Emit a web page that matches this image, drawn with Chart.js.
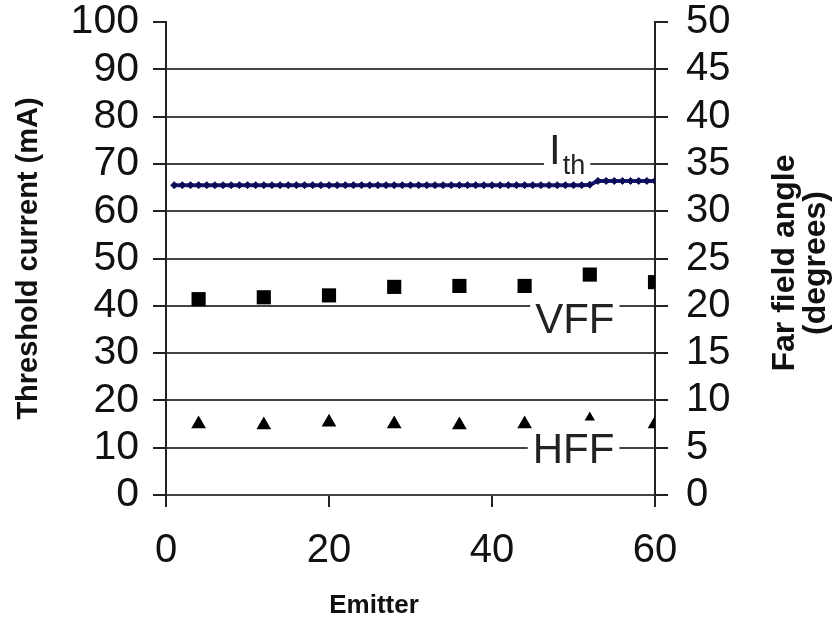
<!DOCTYPE html>
<html lang="en">
<head>
  <meta charset="UTF-8">
  <title>Threshold current and far field angle vs emitter</title>
  <script src="https://cdn.jsdelivr.net/npm/chart.js"></script>
  <style>
    html, body { margin: 0; padding: 0; background: #fff; }
    .chart-box { position: relative; width: 839px; height: 629px; }
  </style>
</head>
<body>
  <div class="chart-box">
    <canvas id="emitterChart"></canvas>
  </div>

  <script>
    // threshold current, one point per emitter
    const ithEmitters = [
      1, 2, 3, 4, 5, 6, 7, 8, 9, 10, 11, 12, 13, 14, 15, 16, 17, 18, 19, 20,
      21, 22, 23, 24, 25, 26, 27, 28, 29, 30, 31, 32, 33, 34, 35, 36, 37, 38, 39, 40,
      41, 42, 43, 44, 45, 46, 47, 48, 49, 50, 51, 52, 53, 54, 55, 56, 57, 58, 59, 60
    ];
    const ithValues = [
      65.5, 65.5, 65.5, 65.5, 65.5, 65.5, 65.5, 65.5, 65.5, 65.5,
      65.5, 65.5, 65.5, 65.5, 65.5, 65.5, 65.5, 65.5, 65.5, 65.5,
      65.5, 65.5, 65.5, 65.5, 65.5, 65.5, 65.5, 65.5, 65.5, 65.5,
      65.5, 65.5, 65.5, 65.5, 65.5, 65.5, 65.5, 65.5, 65.5, 65.5,
      65.5, 65.5, 65.5, 65.5, 65.5, 65.5, 65.5, 65.5, 65.5, 65.5,
      65.5, 65.6, 66.4, 66.4, 66.4, 66.4, 66.4, 66.4, 66.4, 66.4
    ];

    // far field angles, every 8th emitter
    const ffEmitters = [4, 12, 20, 28, 36, 44, 52, 60];
    const vffValues = [20.7, 20.9, 21.1, 22.0, 22.1, 22.1, 23.3, 22.5];
    const hffValues = [7.5, 7.4, 7.7, 7.5, 7.4, 7.5, 8.2, 7.5];
    const hffSizes = [8.5, 8.5, 8.5, 8.5, 8.5, 8.5, 6, 8.5];

    const leftTicks = [0, 10, 20, 30, 40, 50, 60, 70, 80, 90, 100];
    const rightTicks = [0, 5, 10, 15, 20, 25, 30, 35, 40, 45, 50];
    const xTicks = [0, 20, 40, 60];

    const FONT = 'Liberation Sans, Arial, Helvetica, sans-serif';

    // curve labels sitting on the grid lines (x in emitters, y in mA)
    const curveLabels = [
      { text: 'I', sub: 'th', x: 47.0, y: 70.0 },
      { text: 'VFF', x: 45.3, y: 34.2 },
      { text: 'HFF', x: 45.0, y: 6.8 }
    ];

    const labelPlugin = {
      id: 'curveLabels',
      afterDatasetsDraw(chart) {
        const ctx = chart.ctx;
        const xs = chart.scales.x, ys = chart.scales.y;
        ctx.save();
        ctx.textBaseline = 'alphabetic';
        ctx.textAlign = 'left';
        curveLabels.forEach(l => {
          const px = xs.getPixelForValue(l.x);
          const py = ys.getPixelForValue(l.y);
          ctx.font = '42px ' + FONT;
          let w = ctx.measureText(l.text).width;
          let subW = 0;
          if (l.sub) {
            ctx.font = '27px ' + FONT;
            subW = ctx.measureText(l.sub).width + 2;
          }
          // knock the grid line out behind the label
          ctx.fillStyle = '#fff';
          ctx.fillRect(px - 5, py - 34, w + subW + 10, 44);
          ctx.fillStyle = '#222';
          ctx.font = '42px ' + FONT;
          ctx.fillText(l.text, px, py);
          if (l.sub) {
            ctx.font = '27px ' + FONT;
            ctx.fillText(l.sub, px + w + 2, py + 10);
          }
        });
        ctx.restore();
      },
      afterDraw(chart) {
        const ctx = chart.ctx;
        ctx.save();
        ctx.fillStyle = '#111';
        ctx.textAlign = 'center';
        ctx.textBaseline = 'middle';
        // right axis title, reading bottom to top like the left one
        ctx.font = 'bold 32px ' + FONT;
        [['Far field angle', 785], ['(degrees)', 816]].forEach(([t, x]) => {
          ctx.save();
          ctx.translate(x, 263);
          ctx.rotate(-Math.PI / 2);
          ctx.fillText(t, 0, 0);
          ctx.restore();
        });
        // x axis title sits left of the plot centre in the original
        ctx.font = 'bold 26px ' + FONT;
        ctx.fillText('Emitter', 374, 606);
        ctx.restore();
      }
    };

    // keep the plot box where the original has it
    const noPad = s => { s.paddingTop = 0; s.paddingBottom = 0; };

    const ctx = document.getElementById('emitterChart').getContext('2d');
    new Chart(ctx, {
      type: 'scatter',
      data: {
        datasets: [
          {
            label: 'Ith',
            data: ithEmitters.map((e, i) => ({ x: e, y: ithValues[i] })),
            showLine: true,
            yAxisID: 'y',
            borderColor: '#1c1c80',
            borderWidth: 4,
            pointStyle: 'rectRot',
            pointRadius: 3.5,
            pointBackgroundColor: '#0c0c55',
            pointBorderColor: '#0c0c55',
            pointBorderWidth: 1
          },
          {
            label: 'VFF',
            data: ffEmitters.map((e, i) => ({ x: e, y: vffValues[i] })),
            yAxisID: 'y2',
            pointStyle: 'rect',
            pointRadius: 10,
            backgroundColor: '#000',
            borderColor: '#000',
            pointBorderWidth: 0
          },
          {
            label: 'HFF',
            data: ffEmitters.map((e, i) => ({ x: e, y: hffValues[i] })),
            yAxisID: 'y2',
            pointStyle: 'triangle',
            pointRadius: hffSizes,
            backgroundColor: '#000',
            borderColor: '#000',
            pointBorderWidth: 0
          }
        ]
      },
      options: {
        responsive: true,
        maintainAspectRatio: false,
        animation: false,
        layout: { padding: { top: 22, left: 0, right: 0, bottom: 0 } },
        plugins: {
          legend: { display: false },
          tooltip: { enabled: false }
        },
        scales: {
          x: {
            type: 'linear',
            min: 0,
            max: 60,
            afterBuildTicks: s => { s.ticks = xTicks.map(v => ({ value: v })); },
            afterFit: s => { s.height = 134; },
            grid: {
              drawOnChartArea: false,
              tickLength: 12,
              color: '#222',
              lineWidth: 2
            },
            border: { display: false },
            ticks: {
              autoSkip: false,
              color: '#111',
              padding: 20,
              font: { family: FONT, size: 40 }
            }
          },
          y: {
            position: 'left',
            min: 0,
            max: 100,
            afterBuildTicks: s => { s.ticks = leftTicks.map(v => ({ value: v })); },
            afterFit: s => { s.width = 166; noPad(s); },
            grid: {
              color: c => (c.tick && c.tick.value === 100 ? 'rgba(0,0,0,0)' : '#444'),
              tickColor: '#222',
              lineWidth: 2,
              tickLength: 13
            },
            border: { display: true, color: '#222', width: 2 },
            ticks: {
              autoSkip: false,
              color: '#111',
              padding: 14,
              font: { family: FONT, size: 41 }
            },
            title: {
              display: true,
              text: 'Threshold current (mA)',
              color: '#111',
              padding: { top: 12, bottom: 0 },
              font: { family: FONT, size: 29, weight: 'bold' }
            }
          },
          y2: {
            position: 'right',
            min: 0,
            max: 50,
            afterBuildTicks: s => { s.ticks = rightTicks.map(v => ({ value: v })); },
            afterFit: s => { s.width = 184; noPad(s); },
            grid: {
              drawOnChartArea: false,
              color: '#222',
              lineWidth: 2,
              tickLength: 13
            },
            border: { display: true, color: '#222', width: 2 },
            ticks: {
              autoSkip: false,
              color: '#111',
              padding: 18,
              font: { family: FONT, size: 40 }
            }
          }
        }
      },
      plugins: [labelPlugin]
    });
  </script>
</body>
</html>
